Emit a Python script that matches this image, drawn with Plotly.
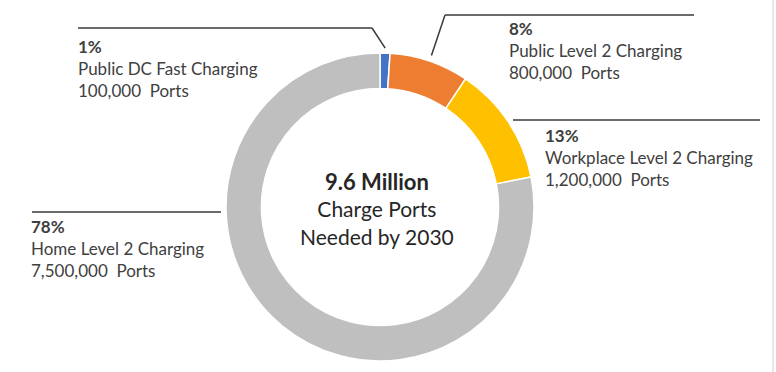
import math
import plotly.graph_objects as go

# Charging port needs by 2030
categories = [
    "Public DC Fast Charging",
    "Public Level 2 Charging",
    "Workplace Level 2 Charging",
    "Home Level 2 Charging",
]
ports = [100000, 800000, 1200000, 7500000]
pct_labels = ["1%", "8%", "13%", "78%"]
colors = ["#4472C4", "#ED7D31", "#FFC000", "#BFBFBF"]

W, H = 776, 372
CX, CY, R = 380, 207, 154  # donut centre and outer radius, in pixels

TEXT = "#404040"
FONT = "Lato"


def px(x):
    return x / W


def py(y):
    return 1 - y / H


fig = go.Figure(
    go.Pie(
        labels=categories,
        values=ports,
        hole=0.77,
        sort=False,
        direction="clockwise",
        rotation=0,
        marker=dict(colors=colors, line=dict(color="white", width=1.5)),
        textinfo="none",
        hoverinfo="label+value+percent",
        domain=dict(x=[px(CX - R), px(CX + R)], y=[py(CY + R), py(CY - R)]),
        showlegend=False,
    )
)

# mid-angle of each slice (degrees clockwise from 12 o'clock)
total = sum(ports)
mids = []
acc = 0
for v in ports:
    mids.append((acc + v / 2) / total * 360)
    acc += v


def edge_point(angle_deg, r):
    a = math.radians(angle_deg)
    return CX + r * math.sin(a), CY - r * math.cos(a)


shapes = []
line_style = dict(color="#3A3A3A", width=1.5)

# leader lines from each label to its slice
bx, by = edge_point(mids[0], 159)
shapes.append(dict(type="line", xref="paper", yref="paper",
                   x0=px(78), y0=py(28), x1=px(372), y1=py(28), line=line_style))
shapes.append(dict(type="line", xref="paper", yref="paper",
                   x0=px(372), y0=py(28), x1=px(bx), y1=py(by), line=line_style))

ox, oy = edge_point(mids[1], 160)
shapes.append(dict(type="line", xref="paper", yref="paper",
                   x0=px(445), y0=py(15), x1=px(694), y1=py(15), line=line_style))
shapes.append(dict(type="line", xref="paper", yref="paper",
                   x0=px(445), y0=py(15), x1=px(ox), y1=py(oy), line=line_style))

shapes.append(dict(type="line", xref="paper", yref="paper",
                   x0=px(513), y0=py(120), x1=px(760), y1=py(120), line=line_style))

shapes.append(dict(type="line", xref="paper", yref="paper",
                   x0=px(32), y0=py(212), x1=px(221), y1=py(212), line=line_style))

# thin frame edge on the right
shapes.append(dict(type="line", xref="paper", yref="paper",
                   x0=px(773), y0=0, x1=px(773), y1=1,
                   line=dict(color="#D0D0D0", width=1)))

label_pos = [(76, 34), (507, 16), (543, 123), (29, 214)]
annotations = []
for (lx, ly), pct, cat, v in zip(label_pos, pct_labels, categories, ports):
    annotations.append(dict(
        xref="paper", yref="paper", x=px(lx), y=py(ly),
        xanchor="left", yanchor="top", align="left", showarrow=False,
        text=f"<b>{pct}</b><br>{cat}<br>{v:,}  Ports",
        font=dict(family=FONT, size=17, color=TEXT),
    ))

annotations.append(dict(
    xref="paper", yref="paper", x=px(377), y=py(209),
    xanchor="center", yanchor="middle", align="center", showarrow=False,
    text=(f"<b><span style='font-size:22px'>{total / 1e6:.1f} Million</span></b>"
          "<br>Charge Ports<br>Needed by 2030"),
    font=dict(family=FONT, size=21, color="#262626"),
))

fig.update_layout(
    width=W, height=H,
    margin=dict(l=0, r=0, t=0, b=0),
    paper_bgcolor="white", plot_bgcolor="white",
    shapes=shapes, annotations=annotations,
)

fig.write_html("out.html")
